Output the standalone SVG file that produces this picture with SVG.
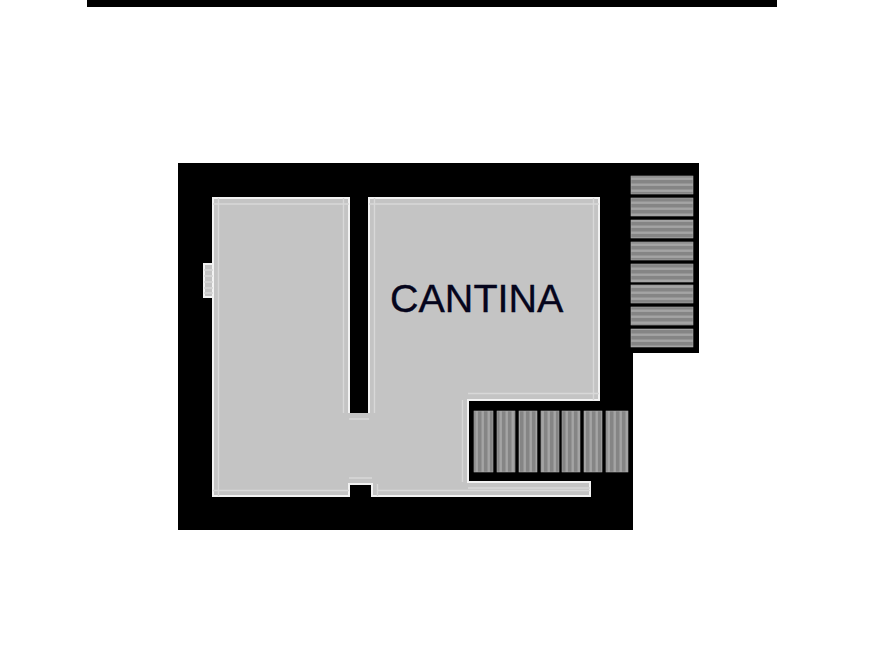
<svg xmlns="http://www.w3.org/2000/svg" width="893" height="670" viewBox="0 0 893 670">
  <defs>
    <filter id="soft" x="-5%" y="-5%" width="110%" height="110%"><feGaussianBlur stdDeviation="0.7"/></filter>
    <pattern id="hstripe" width="10" height="6" patternUnits="userSpaceOnUse" patternTransform="translate(0 176)">
      <rect width="10" height="6" fill="#858585"/><rect y="1.5" width="10" height="2.4" fill="#a4a4a4"/>
    </pattern>
    <pattern id="vstripe" width="6" height="10" patternUnits="userSpaceOnUse" patternTransform="translate(474 0)">
      <rect width="6" height="10" fill="#858585"/><rect x="1.5" width="2.4" height="10" fill="#a4a4a4"/>
    </pattern>
  </defs>
  <style>
    .wall { fill: #000; }
    .floor { fill: #c4c4c4; }
    .edge { fill: none; stroke: #f2f2f2; stroke-width: 2; }
    .inner { fill: none; stroke: #d8d8d8; stroke-width: 1.4; }
    .ht { fill: url(#hstripe); stroke: #a8a8a8; stroke-width: 0.6; }
    .vt { fill: url(#vstripe); stroke: #a8a8a8; stroke-width: 0.6; }
    text { font-family: "Liberation Sans", Arial, sans-serif; font-size: 39.5px; fill: #05051c; stroke: #05051c; stroke-width: 0.35; }
  </style>
  <rect width="893" height="670" fill="#fff"/>
  <g filter="url(#soft)">
    <rect id="top-bar" class="wall" x="87" y="0" width="690" height="7"/>
    <g id="walls">
      <path class="wall" d="M178 163H699V353H633V530H178Z"/>
    </g>
    <g id="floor">
      <path class="floor" d="M213 198H349V413H369V198H599V400H468V482H590V496H372V484H349V496H213Z"/>
      <rect class="floor" x="203" y="264" width="10" height="33" fill="#d8d8d8"/>
      <path class="edge" d="M349 413V198H213V496H349V484H372V496H590V482H468V400H599V198H369V413"/>
      <path class="edge" d="M213 264H204V297H213"/>
      <path class="inner" d="M218.500 198V496M213 204H349M343.500 198V413M374.500 198V413M369 204H599M593.500 198V400M213 490.500H349M349 419H369M349 478H372M377.500 484V496M377 490.500H590M462.500 400V482M468 393.500H599M468 488H590"/>
      <path class="inner" d="M204 270H213M204 276H213M204 282H213M204 288H213M204 293H213"/>
    </g>
    <g id="stairs-right">
      <rect class="ht" x="631" y="176" width="62" height="18"/>
      <rect class="ht" x="631" y="198" width="62" height="18"/>
      <rect class="ht" x="631" y="220" width="62" height="18"/>
      <rect class="ht" x="631" y="242" width="62" height="18"/>
      <rect class="ht" x="631" y="264" width="62" height="18"/>
      <rect class="ht" x="631" y="285" width="62" height="18"/>
      <rect class="ht" x="631" y="307" width="62" height="18"/>
      <rect class="ht" x="631" y="329" width="62" height="18"/>
    </g>
    <g id="stairs-bottom">
      <rect class="vt" x="474" y="411" width="19" height="61"/>
      <rect class="vt" x="497" y="411" width="18" height="61"/>
      <rect class="vt" x="519" y="411" width="18" height="61"/>
      <rect class="vt" x="541" y="411" width="18" height="61"/>
      <rect class="vt" x="562" y="411" width="18" height="61"/>
      <rect class="vt" x="584" y="411" width="18" height="61"/>
      <rect class="vt" x="606" y="411" width="22" height="61"/>
    </g>
  </g>
  <g id="label"><text x="390" y="312">CANTINA</text></g>
</svg>
